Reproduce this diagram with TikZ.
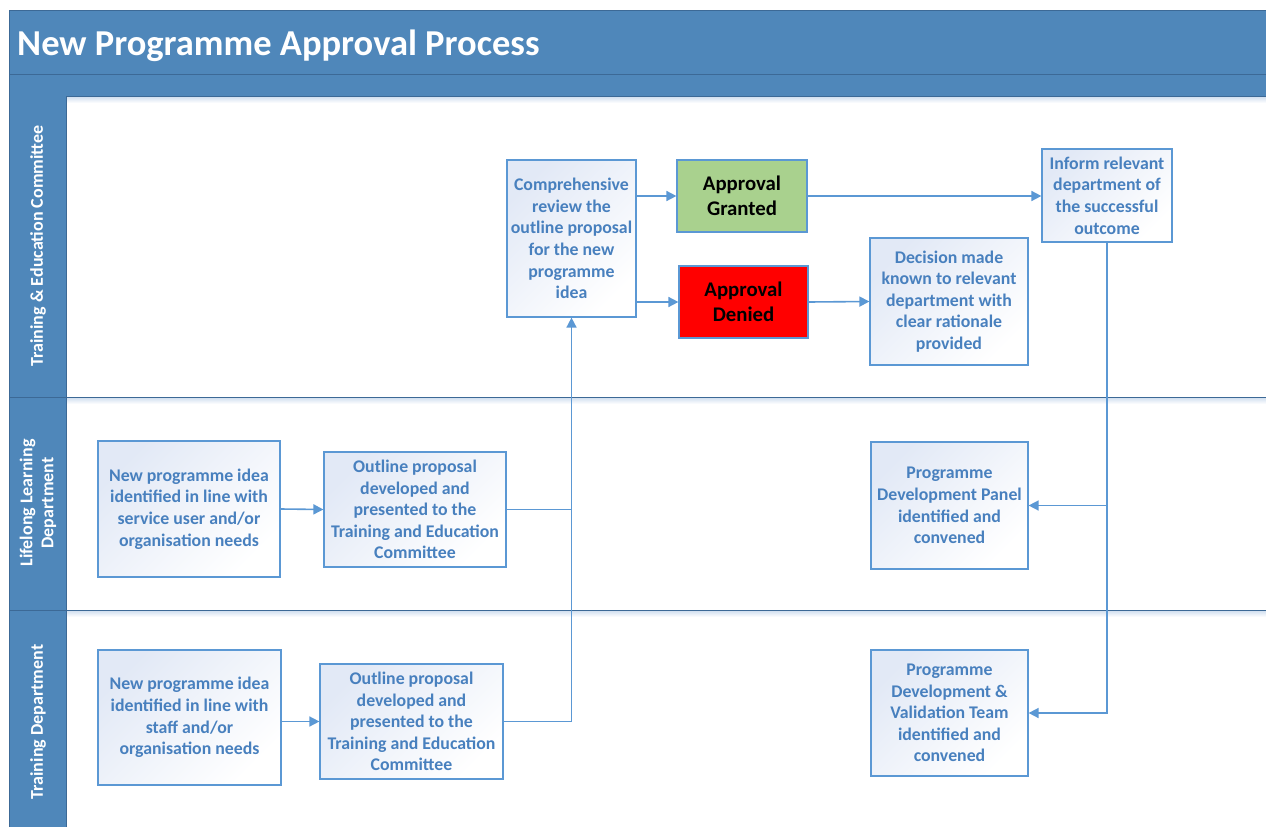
\documentclass[tikz,border=0pt]{standalone}
\usepackage{fontspec}
\setmainfont{Carlito}
\usetikzlibrary{arrows.meta}
\definecolor{band}{RGB}{79,135,186}
\definecolor{bandline}{RGB}{60,105,150}
\definecolor{boxline}{RGB}{91,152,212}
\definecolor{boxtext}{RGB}{72,128,190}
\definecolor{boxtop}{RGB}{226,233,246}
\definecolor{shadow}{RGB}{205,220,238}
\definecolor{okgreen}{RGB}{169,209,142}
\definecolor{nored}{RGB}{255,0,0}
\tikzset{
  box/.style={draw=boxline, line width=1.2pt, top color=boxtop, bottom color=white, shading angle=45,
    align=center, inner sep=0pt, text=boxtext, font=\fontsize{17.8}{21.6}\selectfont\bfseries},
  decbox/.style={draw=boxline, line width=1.2pt, align=center, inner sep=0pt, text=black,
    font=\fontsize{20.8}{24.5}\selectfont\bfseries},
  conn/.style={draw=boxline, line width=1.6pt},
  arr/.style={conn, -{Triangle[length=10pt,width=10pt]}},
  lanetext/.style={text=white, rotate=90, align=center, font=\fontsize{18}{21}\selectfont\bfseries},
}
\begin{document}
\begin{tikzpicture}[x=1pt,y=-1pt]
\useasboundingbox (0,0) rectangle (1266,827);
\clip (0,0) rectangle (1266,827);
% frame and bands
\fill[white] (0,0) rectangle (1266,827);
\fill[band] (9,10) rectangle (1280,96);
\fill[band] (9,96) rectangle (66,840);
\draw[bandline, line width=0.8pt] (9,840) -- (9,10) -- (1280,10);
\draw[bandline, line width=0.8pt] (9,74) -- (1280,74);
% shadows under separators
\shade[top color=shadow, bottom color=white] (66,96) rectangle (1280,103);
\shade[top color=shadow, bottom color=white] (66,397) rectangle (1280,404);
\shade[top color=shadow, bottom color=white] (66,610) rectangle (1280,617);
\draw[bandline, line width=0.8pt] (66,96) -- (1280,96);
\draw[bandline, line width=0.8pt] (66,96) -- (66,840);
\draw[bandline, line width=0.8pt] (9,397) -- (1280,397);
\draw[bandline, line width=0.8pt] (9,610) -- (1280,610);
% title
\node[anchor=west, text=white, font=\fontsize{36.5}{40}\selectfont\bfseries, inner sep=0pt] (title) at (17,45.5) {New Programme Approval Process};
% lane labels
\node[lanetext] (laneA) at (38,246) {Training \& Education Committee};
\node[lanetext] (laneB) at (38,503) {Lifelong Learning\\Department};
\node[lanetext] (laneC) at (38,722) {Training Department};
% nodes
\node[box, minimum width=129, minimum height=157] (review) at (571.5,238.5)
  {Comprehensive\\review the\\outline proposal\\for the new\\programme\\idea};
\node[decbox, fill=okgreen, minimum width=130, minimum height=72] (granted) at (742,196)
  {Approval\\Granted};
\node[decbox, fill=nored, minimum width=129, minimum height=72] (denied) at (743.5,302)
  {Approval\\Denied};
\node[box, minimum width=130, minimum height=93] (inform) at (1107,195.5)
  {Inform relevant\\department of\\the successful\\outcome};
\node[box, minimum width=158, minimum height=127] (decision) at (949,301.5)
  {Decision made\\known to relevant\\department with\\clear rationale\\provided};
\node[box, minimum width=182, minimum height=136] (lldidea) at (189,509)
  {New programme idea\\identified in line with\\service user and/or\\organisation needs};
\node[box, minimum width=182, minimum height=115] (lldout) at (415,509.5)
  {Outline proposal\\developed and\\presented to the\\Training and Education\\Committee};
\node[box, minimum width=183, minimum height=135] (tdidea) at (189.5,717.5)
  {New programme idea\\identified in line with\\staff and/or\\organisation needs};
\node[box, minimum width=183, minimum height=115] (tdout) at (411.5,721.5)
  {Outline proposal\\developed and\\presented to the\\Training and Education\\Committee};
\node[box, minimum width=157, minimum height=127] (panel) at (949.5,505.5)
  {Programme\\Development Panel\\identified and\\convened};
\node[box, minimum width=157, minimum height=126] (pdvt) at (949.5,713)
  {Programme\\Development \&\\Validation Team\\identified and\\convened};
% connectors
\draw[arr] (lldidea.east) -- (lldout.west);
\draw[arr] (tdidea.east |- tdout.west) -- (tdout.west);
\draw[conn] (lldout.east) -- (lldout.east -| review.south);
\draw[arr] (tdout.east) -| (review.south);
\draw[arr] (review.east |- granted.west) -- (granted.west);
\draw[arr] (review.east |- denied.west) -- (denied.west);
\draw[arr] (granted.east) -- (inform.west |- granted.east);
\draw[arr] (denied.east) -- (decision.west);
\draw[arr] (inform.south) |- (pdvt.east);
\draw[arr] (inform.south |- panel.east) -- (panel.east);
\end{tikzpicture}
\end{document}
